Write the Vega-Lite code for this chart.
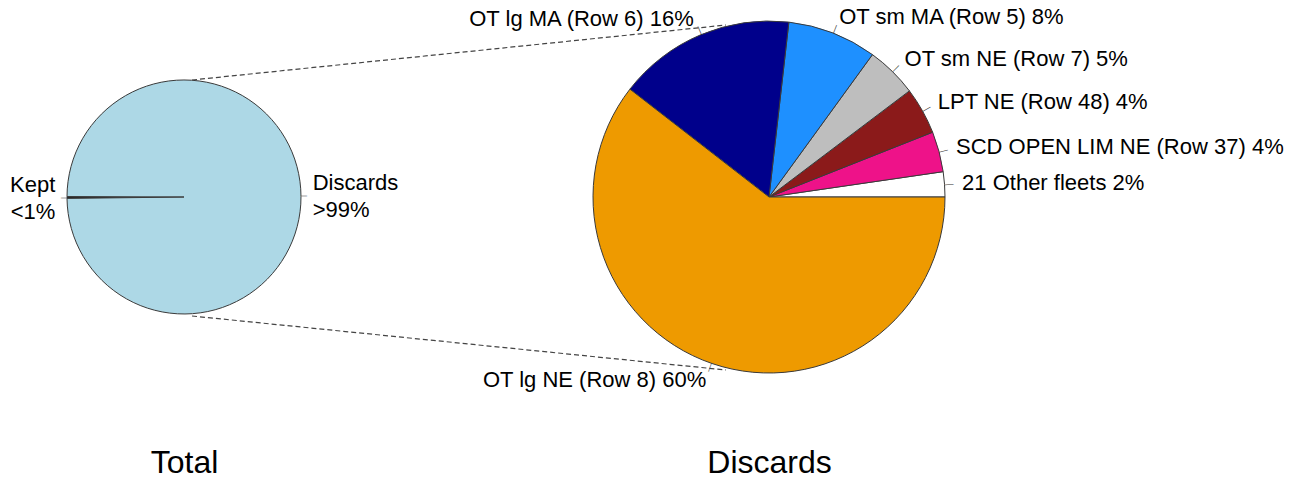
{
  "$schema": "https://vega.github.io/schema/vega-lite/v6.json",
  "width": 1305,
  "height": 394,
  "padding": 0,
  "background": "white",
  "config": {"view": {"stroke": null}, "font": "Liberation Sans"},
  "datasets": {
    "total": [
      {"chart": "Total", "part": "Kept", "share": 0.25, "label": "Kept\n<1%"},
      {"chart": "Total", "part": "Discards", "share": 99.75, "label": "Discards\n>99%"}
    ],
    "discards": [
      {"chart": "Discards", "part": "21 Other fleets", "share": 2.3, "label": "21 Other fleets 2%"},
      {"chart": "Discards", "part": "SCD OPEN LIM NE (Row 37)", "share": 3.7, "label": "SCD OPEN LIM NE (Row 37) 4%"},
      {"chart": "Discards", "part": "LPT NE (Row 48)", "share": 4.3, "label": "LPT NE (Row 48) 4%"},
      {"chart": "Discards", "part": "OT sm NE (Row 7)", "share": 4.7, "label": "OT sm NE (Row 7) 5%"},
      {"chart": "Discards", "part": "OT sm MA (Row 5)", "share": 8.2, "label": "OT sm MA (Row 5) 8%"},
      {"chart": "Discards", "part": "OT lg MA (Row 6)", "share": 16.3, "label": "OT lg MA (Row 6) 16%"},
      {"chart": "Discards", "part": "OT lg NE (Row 8)", "share": 60.5, "label": "OT lg NE (Row 8) 60%"}
    ],
    "links": [
      {"edge": "top", "from": 117, "to": 172},
      {"edge": "bottom", "from": -119, "to": -173}
    ]
  },
  "layer": [
    {
      "data": {"name": "links"},
      "mark": {"type": "rule", "strokeDash": [5, 3], "color": "#444444", "strokeWidth": 1.2, "xOffset": 8, "x2Offset": -43},
      "encoding": {
        "x": {"datum": "Total", "type": "nominal", "scale": {"type": "point", "domain": ["Total", "Discards"], "range": [184, 769], "padding": 0},
          "axis": {"title": null, "domain": false, "ticks": false, "grid": false, "labelFontSize": 32, "labelFont": "Liberation Sans", "labelColor": "#000000", "labelPadding": 78, "labelBaseline": "alphabetic", "labelAngle": 0}},
        "x2": {"datum": "Discards"},
        "y": {"field": "from", "type": "quantitative", "scale": {"domain": [-197, 197], "nice": false, "zero": false}, "axis": null},
        "y2": {"field": "to"}
      }
    },
    {
      "data": {"name": "total"},
      "mark": {"type": "arc", "radius": 117, "stroke": "#3a3a3a", "strokeWidth": 1},
      "encoding": {
        "x": {"field": "chart", "type": "nominal"},
        "theta": {"field": "share", "type": "quantitative", "stack": true, "scale": {"range": [4.716, -1.567]}},
        "order": {"field": "share", "sort": "ascending"},
        "color": {"field": "part", "type": "nominal", "legend": null,
          "scale": {"domain": ["Kept", "Discards", "21 Other fleets", "SCD OPEN LIM NE (Row 37)", "LPT NE (Row 48)", "OT sm NE (Row 7)", "OT sm MA (Row 5)", "OT lg MA (Row 6)", "OT lg NE (Row 8)"],
                    "range": ["#222222", "#ADD8E6", "#FFFFFF", "#EE1289", "#8B1A1A", "#BEBEBE", "#1E90FF", "#00008B", "#EE9A00"]}}
      }
    },
    {
      "data": {"name": "discards"},
      "mark": {"type": "arc", "radius": 176, "stroke": "#3a3a3a", "strokeWidth": 1},
      "encoding": {
        "x": {"field": "chart", "type": "nominal"},
        "theta": {"field": "share", "type": "quantitative", "stack": true, "scale": {"range": [1.570796, -4.712389]}},
        "order": {"field": "share", "sort": "ascending"},
        "color": {"field": "part", "type": "nominal", "legend": null}
      }
    },
    {
      "data": {"name": "total"},
      "mark": {"type": "text", "radius": 128.7, "fontSize": 22, "color": "#000000", "baseline": "middle", "lineBreak": "\n", "lineHeight": 27, "dy": -13,
        "align": {"expr": "cos(PI*(datum.share_start+datum.share_end)/100) >= 0 ? 'right' : 'left'"}},
      "encoding": {
        "x": {"field": "chart", "type": "nominal"},
        "theta": {"field": "share", "type": "quantitative", "stack": true, "scale": {"range": [4.716, -1.567]}},
        "order": {"field": "share", "sort": "ascending"},
        "text": {"field": "label"}
      }
    },
    {
      "data": {"name": "total"},
      "mark": {"type": "text", "radius": 120, "fontSize": 6, "color": "#333333", "baseline": "middle", "align": "center", "text": "—",
        "angle": {"expr": "-1.8*(datum.share_start+datum.share_end)"}},
      "encoding": {
        "x": {"field": "chart", "type": "nominal"},
        "theta": {"field": "share", "type": "quantitative", "stack": true, "scale": {"range": [4.716, -1.567]}},
        "order": {"field": "share", "sort": "ascending"}
      }
    },
    {
      "data": {"name": "discards"},
      "mark": {"type": "text", "radius": 193.6, "fontSize": 22, "color": "#000000", "baseline": "middle",
        "align": {"expr": "cos(PI*(datum.share_start+datum.share_end)/100) >= 0 ? 'left' : 'right'"}},
      "encoding": {
        "x": {"field": "chart", "type": "nominal"},
        "theta": {"field": "share", "type": "quantitative", "stack": true, "scale": {"range": [1.570796, -4.712389]}},
        "order": {"field": "share", "sort": "ascending"},
        "text": {"field": "label"}
      }
    },
    {
      "data": {"name": "discards"},
      "mark": {"type": "text", "radius": 180.4, "fontSize": 9, "color": "#333333", "baseline": "middle", "align": "center", "text": "—",
        "angle": {"expr": "-1.8*(datum.share_start+datum.share_end)"}},
      "encoding": {
        "x": {"field": "chart", "type": "nominal"},
        "theta": {"field": "share", "type": "quantitative", "stack": true, "scale": {"range": [1.570796, -4.712389]}},
        "order": {"field": "share", "sort": "ascending"}
      }
    }
  ],
  "resolve": {"scale": {"theta": "independent"}}
}
